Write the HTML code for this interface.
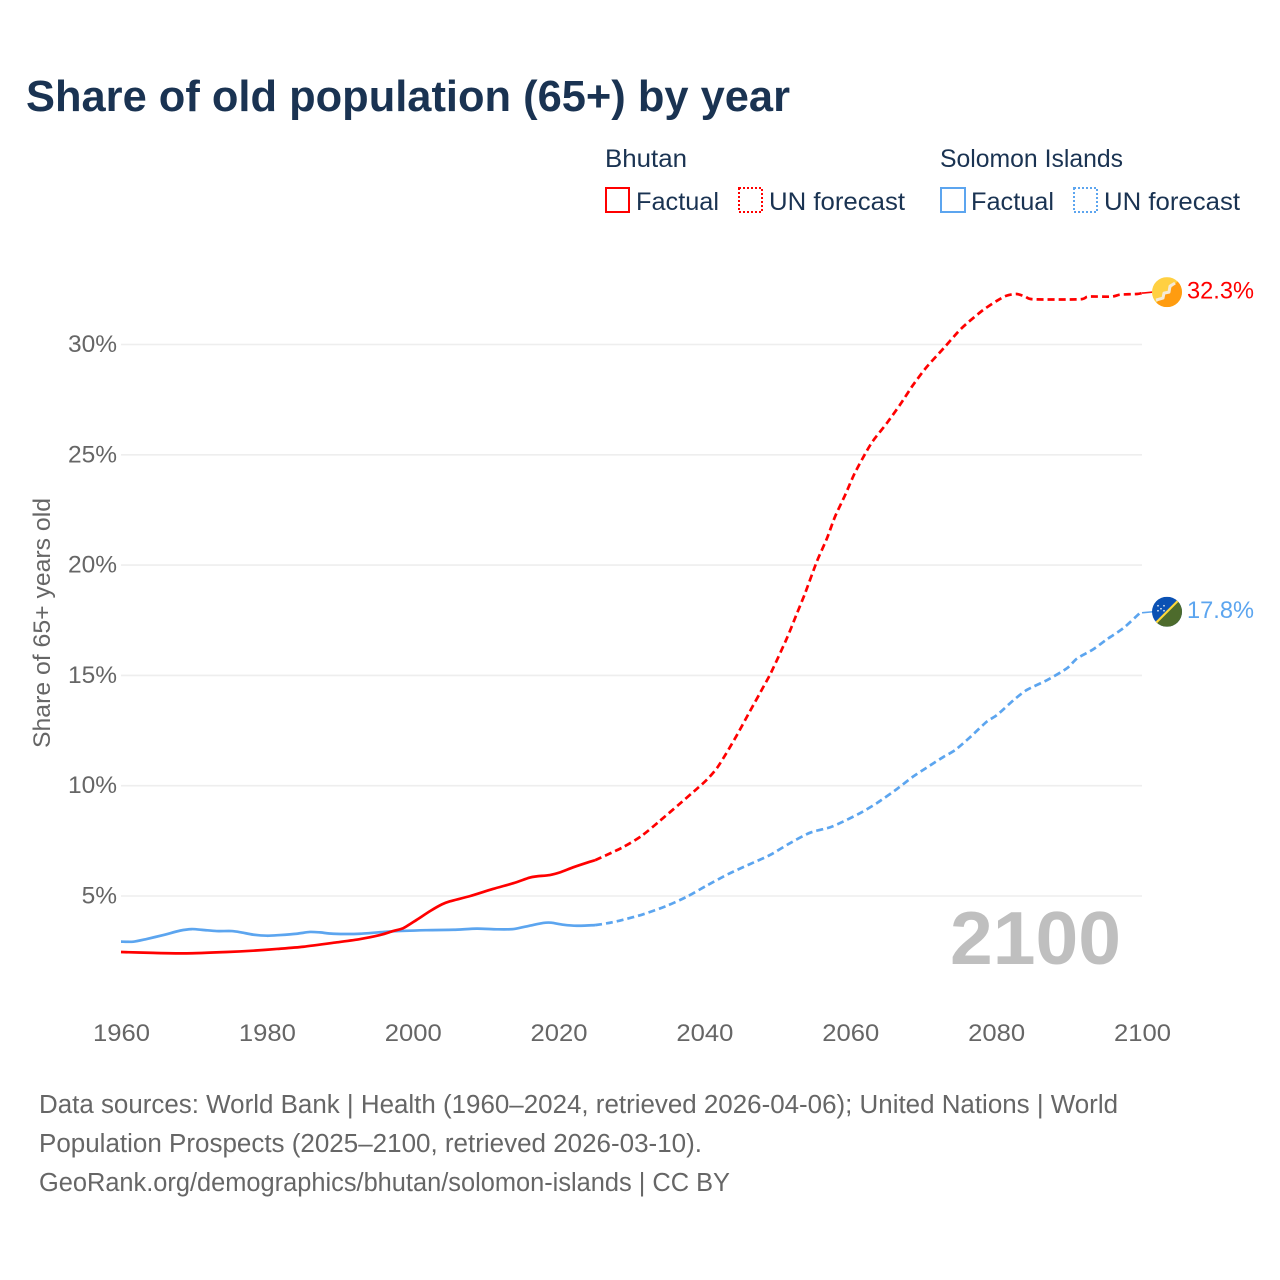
<!DOCTYPE html>
<html lang="en">
<head>
<meta charset="utf-8">
<title>Share of old population (65+) by year</title>
<style>
html,body{margin:0;padding:0;background:#fff;}
svg{display:block;font-family:"Liberation Sans",sans-serif;}
.leg{font-size:25px;fill:#1a3352;}
.foot{font-size:25.5px;fill:#666;}
.tick{font-size:24.5px;fill:#666;}
</style>
</head>
<body>
<svg id="chart" xmlns="http://www.w3.org/2000/svg" width="1280" height="1280" viewBox="0 0 1280 1280">
<rect width="1280" height="1280" fill="#fff"/>
<text x="26" y="111" font-size="44" font-weight="700" fill="#1a3352" textLength="764" lengthAdjust="spacingAndGlyphs">Share of old population (65+) by year</text>

<g>
<text class="leg" x="605" y="167" textLength="82" lengthAdjust="spacingAndGlyphs">Bhutan</text>
<rect x="606" y="188" width="23" height="24" fill="none" stroke="#ff0000" stroke-width="2"/>
<text class="leg" x="636" y="210" textLength="83" lengthAdjust="spacingAndGlyphs">Factual</text>
<rect x="739" y="188" width="23" height="24" fill="none" stroke="#ff0000" stroke-width="2" stroke-dasharray="2 2"/>
<text class="leg" x="769" y="210" textLength="136" lengthAdjust="spacingAndGlyphs">UN forecast</text>
<text class="leg" x="940" y="167" textLength="183" lengthAdjust="spacingAndGlyphs">Solomon Islands</text>
<rect x="941" y="188" width="24" height="24" fill="none" stroke="#5ca5ef" stroke-width="2"/>
<text class="leg" x="971" y="210" textLength="83" lengthAdjust="spacingAndGlyphs">Factual</text>
<rect x="1074" y="188" width="23" height="24" fill="none" stroke="#5ca5ef" stroke-width="2" stroke-dasharray="2 2"/>
<text class="leg" x="1104" y="210" textLength="136" lengthAdjust="spacingAndGlyphs">UN forecast</text>
</g>

<g id="grid"></g>
<g id="yticks"></g>
<g id="xticks"></g>
<text transform="translate(50,748) rotate(-90)" font-size="24.5" fill="#666" textLength="250" lengthAdjust="spacingAndGlyphs">Share of 65+ years old</text>
<text x="950" y="964" font-size="75" font-weight="700" fill="#bfbfbf" textLength="171" lengthAdjust="spacingAndGlyphs">2100</text>
<g id="series"></g>

<defs>
<clipPath id="flagClipB"><circle cx="0" cy="0" r="15"/></clipPath>
<clipPath id="flagClipS"><circle cx="0" cy="0" r="15"/></clipPath>
</defs>
<g id="flagB">
<g clip-path="url(#flagClipB)">
<rect x="-15" y="-15" width="30" height="30" fill="#ffd042"/>
<polygon points="15,-15 15,15 -15,15" fill="#ff9c10"/>
<path d="M-11,8 L-4,6 L-3,1 L2,0 L3,-6 L8,-9" fill="none" stroke="#f4ead8" stroke-width="3" stroke-linejoin="round"/>
</g>
</g>
<g id="flagS">
<g clip-path="url(#flagClipS)">
<rect x="-15" y="-15" width="30" height="30" fill="#0b51b3"/>
<polygon points="15,-15 15,15 -15,15" fill="#4d6b2c"/>
<line x1="-15" y1="15" x2="15" y2="-15" stroke="#ffd83a" stroke-width="2.2"/>
<g fill="#fff" opacity="0.85"><circle cx="-9" cy="-6" r="0.9"/><circle cx="-3" cy="-6" r="0.9"/><circle cx="-6" cy="-3" r="0.9"/><circle cx="-9" cy="-1" r="0.9"/><circle cx="-3" cy="-1" r="0.9"/></g>
</g>
</g>
<text id="labelB" font-size="24.5" fill="#ff0000" textLength="67" lengthAdjust="spacingAndGlyphs"></text>
<text id="labelS" font-size="24.5" fill="#5ca5ef" textLength="67" lengthAdjust="spacingAndGlyphs"></text>

<g>
<text class="foot" x="39" y="1113" textLength="1079" lengthAdjust="spacingAndGlyphs">Data sources: World Bank | Health (1960–2024, retrieved 2026-04-06); United Nations | World</text>
<text class="foot" x="39" y="1152" textLength="663" lengthAdjust="spacingAndGlyphs">Population Prospects (2025–2100, retrieved 2026-03-10).</text>
<text class="foot" x="39" y="1191" textLength="691" lengthAdjust="spacingAndGlyphs">GeoRank.org/demographics/bhutan/solomon-islands | CC BY</text>
</g>
</svg>
<script>
var xTickLabels = [1960, 1980, 2000, 2020, 2040, 2060, 2080, 2100];
var yTickValues = [5, 10, 15, 20, 25, 30];

var bhutanFactualYears = [1960,1964.4,1969,1974.5,1978.1,1981.4,1985,1989.6,1992.8,1995.5,1997.3,1998.7,2000.5,2002.4,2004,2005.1,2007.9,2011,2013.8,2016,2017,2018.8,2020.2,2022,2023.9,2025];
var bhutanFactualValues = [2.46,2.42,2.4,2.46,2.52,2.6,2.7,2.9,3.05,3.23,3.41,3.54,3.91,4.32,4.62,4.76,5.0,5.32,5.58,5.83,5.89,5.95,6.07,6.3,6.51,6.62];
var bhutanForecastYears = [2025,2028.7,2031.4,2033.9,2036.4,2038.9,2040.3,2041.7,2043,2044.4,2046.2,2048.1,2049.2,2051.3,2052.6,2053.8,2055.4,2056.8,2057.9,2059.3,2060.6,2062.2,2063.2,2065,2066.8,2068.6,2070.5,2072.8,2074.8,2076,2078.2,2080.1,2081.4,2082.8,2084,2085.1,2091.5,2092.6,2095.8,2097,2099.3,2100];
var bhutanForecastValues = [6.62,7.19,7.73,8.41,9.12,9.84,10.26,10.79,11.47,12.26,13.35,14.49,15.17,16.68,17.74,18.72,20.15,21.21,22.19,23.18,24.16,25.14,25.67,26.43,27.26,28.16,28.99,29.83,30.58,30.96,31.56,31.98,32.21,32.29,32.17,32.05,32.05,32.17,32.17,32.26,32.29,32.33];

var solomonFactualYears = [1960,1961.7,1963.5,1965.8,1968.1,1969.7,1971.3,1973.1,1975.2,1976.5,1978.1,1980,1981.8,1984.1,1985.9,1987.3,1989.1,1992.8,1997.3,2001.9,2005.6,2008.8,2011.5,2013.8,2016,2017.9,2019,2020.6,2022.5,2025];
var solomonFactualValues = [2.93,2.93,3.05,3.23,3.43,3.5,3.46,3.41,3.41,3.35,3.25,3.2,3.23,3.29,3.37,3.35,3.29,3.29,3.4,3.45,3.47,3.52,3.49,3.5,3.65,3.78,3.79,3.7,3.65,3.68];
var solomonForecastYears = [2025,2026.6,2028.7,2031.6,2034.8,2037.6,2040.3,2043.3,2046.2,2049,2051.7,2054.5,2057.2,2059,2061.3,2063.6,2066.4,2068.6,2070.9,2072.8,2074.4,2076.4,2078.7,2080.1,2082.4,2084.2,2087,2089.7,2091.1,2093.3,2095.2,2097.4,2099.7,2100];
var solomonForecastValues = [3.68,3.76,3.91,4.17,4.55,4.97,5.47,6.0,6.44,6.86,7.39,7.87,8.11,8.37,8.75,9.2,9.85,10.41,10.91,11.31,11.62,12.19,12.9,13.2,13.88,14.34,14.79,15.32,15.77,16.18,16.64,17.13,17.82,17.84];

var endLabels = ["32.3%", "17.8%"];

var NS = "http://www.w3.org/2000/svg";
function xScale(year) { return 121 + (year - 1960) * (1142 - 121) / 140; }
function yScale(v) { return 896 - (v - 5) * (896 - 344.5) / 25; }

function make(tag, parent) {
  var el = document.createElementNS(NS, tag);
  parent.appendChild(el);
  return el;
}

function curve(years, values) {
  var p = years.map(function (y, i) { return [xScale(y), yScale(values[i])]; });
  var d = "M" + p[0][0].toFixed(2) + "," + p[0][1].toFixed(2);
  for (var i = 0; i < p.length - 1; i++) {
    var a = p[Math.max(i - 1, 0)], b = p[i], c = p[i + 1], e = p[Math.min(i + 2, p.length - 1)];
    var k = 8;
    d += "C" + (b[0] + (c[0] - a[0]) / k).toFixed(2) + "," + (b[1] + (c[1] - a[1]) / k).toFixed(2) +
         " " + (c[0] - (e[0] - b[0]) / k).toFixed(2) + "," + (c[1] - (e[1] - b[1]) / k).toFixed(2) +
         " " + c[0].toFixed(2) + "," + c[1].toFixed(2);
  }
  return d;
}

var grid = document.getElementById("grid");
var yticks = document.getElementById("yticks");
yTickValues.forEach(function (v) {
  var line = make("line", grid);
  
  
  line.setAttribute("x1", xScale(1960));
  line.setAttribute("x2", xScale(2100));
  line.setAttribute("y1", yScale(v));
  line.setAttribute("y2", yScale(v));
  line.setAttribute("stroke", "#eeeeee");
  line.setAttribute("stroke-width", "1.6");
  var t = make("text", yticks);
  
  
  t.setAttribute("class", "tick");
  t.setAttribute("text-anchor", "end");
  t.setAttribute("x", 117);
  t.setAttribute("y", yScale(v) + 7.5);
  t.textContent = v + "%";
});

var xticks = document.getElementById("xticks");
xTickLabels.forEach(function (yr) {
  var t = make("text", xticks);
  
  
  t.setAttribute("class", "tick");
  t.setAttribute("text-anchor", "middle");
  t.setAttribute("x", xScale(yr) + 0.5);
  t.setAttribute("y", 1041);
  t.setAttribute("textLength", "57");
  t.setAttribute("lengthAdjust", "spacingAndGlyphs");
  t.textContent = yr;
});

var series = document.getElementById("series");
function drawLine(years, values, color, dashed, name) {
  var path = make("path", series);
  
  
  path.setAttribute("d", curve(years, values));
  path.setAttribute("fill", "none");
  path.setAttribute("stroke", color);
  path.setAttribute("stroke-width", "2.7");
  path.setAttribute("stroke-linejoin", "round");
  if (dashed) { path.setAttribute("stroke-dasharray", "7 4"); }
  return path;
}
function drawLeader(lastValue, color, name) {
  var l = make("line", series);
  
  
  l.setAttribute("x1", xScale(2100));
  l.setAttribute("x2", xScale(2100) + 11);
  l.setAttribute("y1", yScale(lastValue));
  l.setAttribute("y2", yScale(lastValue) - 1);
  l.setAttribute("stroke", color);
  l.setAttribute("stroke-width", "1.6");
}

drawLine(solomonFactualYears, solomonFactualValues, "#5ca5ef", false, "solomon-factual-line");
drawLine(solomonForecastYears, solomonForecastValues, "#5ca5ef", true, "solomon-forecast-line");
drawLine(bhutanFactualYears, bhutanFactualValues, "#ff0000", false, "bhutan-factual-line");
drawLine(bhutanForecastYears, bhutanForecastValues, "#ff0000", true, "bhutan-forecast-line");

var lastB = bhutanForecastValues[bhutanForecastValues.length - 1];
var lastS = solomonForecastValues[solomonForecastValues.length - 1];
drawLeader(lastB, "#ff0000", "bhutan-leader-line");
drawLeader(lastS, "#5ca5ef", "solomon-leader-line");

var endX = xScale(2100) + 25;
document.getElementById("flagB").setAttribute("transform", "translate(" + endX + "," + (yScale(lastB) - 1) + ")");
document.getElementById("flagS").setAttribute("transform", "translate(" + endX + "," + (yScale(lastS) - 1) + ")");

var labelB = document.getElementById("labelB");
labelB.setAttribute("x", endX + 20);
labelB.setAttribute("y", yScale(lastB) + 5.5);
labelB.textContent = endLabels[0];
var labelS = document.getElementById("labelS");
labelS.setAttribute("x", endX + 20);
labelS.setAttribute("y", yScale(lastS) + 5.5);
labelS.textContent = endLabels[1];
</script>
</body>
</html>
